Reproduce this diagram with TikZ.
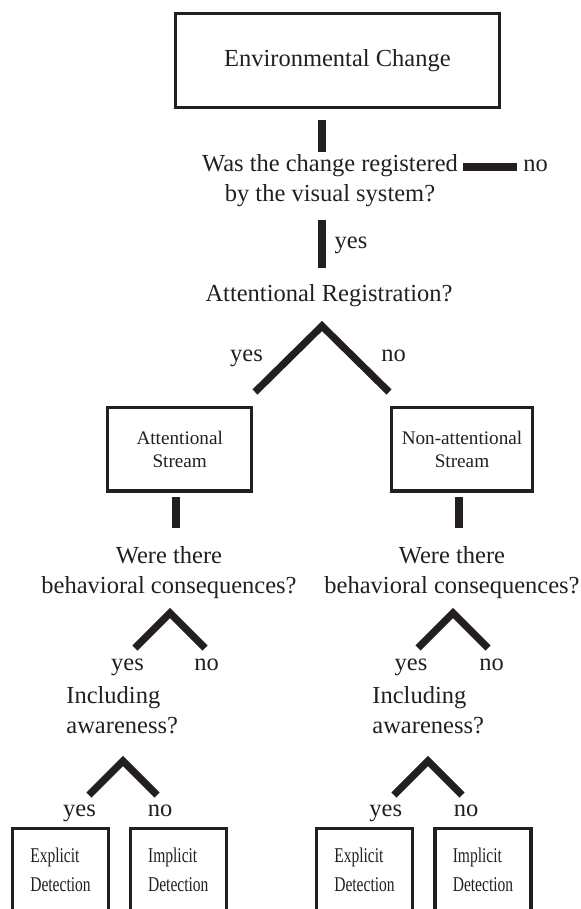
\documentclass[tikz,border=0pt]{standalone}
\usepackage{fontspec}
\setmainfont{Liberation Serif}
\newfontfamily\detectfont[FakeStretch=0.74]{Liberation Serif}
\usepackage{xcolor}
\usepackage{tikz}
\usetikzlibrary{calc}
\definecolor{ink}{HTML}{231F20}
\tikzset{
  treeBox/.style={draw=ink, line width=1.65pt, inner sep=0pt, align=center, text=ink},
  streamBox/.style={treeBox, minimum height=41.65pt, font=\fontsize{9.6}{11.7}\selectfont},
  detectBox/.style={treeBox, anchor=north, minimum width=48pt, text height=17.2pt, text depth=60pt,
    font=\detectfont\fontsize{10.5}{14.5}\selectfont},
  treeBar/.style={draw=ink, line width=3.6pt},
  treeText/.style={inner sep=0pt, text=ink, font=\fontsize{12.25}{15}\selectfont},
  treeLabel/.style={treeText, anchor=base}
}
\newcommand\detectText[2]{\begin{tabular}[t]{@{}l@{}}#1\\#2\end{tabular}}

\begin{document}
\begin{tikzpicture}[x=0.5pt, y=-0.5pt]
  \useasboundingbox (0,0) rectangle (581,909);
  \clip (0,0) rectangle (581,909);

  % top of the tree
  \node[treeBox, minimum width=162.1pt, minimum height=46.9pt, font=\fontsize{12.25}{15}\selectfont]
    (envChange) at (337.4,60.6) {Environmental Change};
  \node[treeText, align=center] (visualQ) at (330,181) {Was the change registered\\by the visual system?};
  \node[treeLabel] (visualNo) at (535.5,172) {no};
  \node[treeLabel] (visualYes) at (351,249) {yes};
  \node[treeLabel] (attnQ) at (329,301.5) {Attentional Registration?};
  \node[treeLabel] (attnYes) at (246.5,361.5) {yes};
  \node[treeLabel] (attnNo) at (393.5,361.5) {no};

  \coordinate (envBarTop) at (322,120);
  \coordinate (envBarEnd) at (322,152);
  \coordinate (noBarTop) at (463,167);
  \coordinate (noBarEnd) at (517,167);
  \coordinate (yesBarTop) at (322,220);
  \coordinate (yesBarEnd) at (322,268);
  \draw[treeBar] (envBarTop) -- (envBarEnd);
  \draw[treeBar] (noBarTop) -- (noBarEnd);
  \draw[treeBar] (yesBarTop) -- (yesBarEnd);

  \coordinate (attnFork) at (322,326);
  \draw[treeBar] ($(attnFork)+(-67,66)$) -- (attnFork) -- ($(attnFork)+(67,66)$);

  % the two streams
  \node[streamBox, minimum width=72pt] (attnStream) at (179.7,449.3) {Attentional\\Stream};
  \node[streamBox, minimum width=70.5pt] (nonStream) at (462,449.3) {Non-attentional\\Stream};

  \coordinate (attnBarTop) at (176,497);
  \coordinate (attnBarEnd) at (176,528);
  \coordinate (nonBarTop) at (459,497);
  \coordinate (nonBarEnd) at (459,528);
  \draw[treeBar] (attnBarTop) -- (attnBarEnd);
  \draw[treeBar] (nonBarTop) -- (nonBarEnd);

  \node[treeText, align=center] (behavL) at (169,572.6) {Were there\\behavioral consequences?};
  \node[treeText, align=center] (behavR) at (452,572.6) {Were there\\behavioral consequences?};

  \coordinate (behavForkL) at (170,613);
  \coordinate (behavForkR) at (453,613);
  \draw[treeBar] ($(behavForkL)+(-35,35)$) -- (behavForkL) -- ($(behavForkL)+(35,35)$);
  \draw[treeBar] ($(behavForkR)+(-35,35)$) -- (behavForkR) -- ($(behavForkR)+(35,35)$);

  \node[treeLabel] (behavYesL) at (127.5,670) {yes};
  \node[treeLabel] (behavNoL) at (206.5,670) {no};
  \node[treeLabel] (behavYesR) at (411,670) {yes};
  \node[treeLabel] (behavNoR) at (491.5,670) {no};

  \node[treeText, align=left, anchor=west] (awareL) at (66,710) {Including\\awareness?};
  \node[treeText, align=left, anchor=west] (awareR) at (372,710) {Including\\awareness?};

  \coordinate (awareForkL) at (123,761);
  \coordinate (awareForkR) at (428,761);
  \draw[treeBar] ($(awareForkL)+(-34,34)$) -- (awareForkL) -- ($(awareForkL)+(34,34)$);
  \draw[treeBar] ($(awareForkR)+(-34,34)$) -- (awareForkR) -- ($(awareForkR)+(34,34)$);

  \node[treeLabel] (awareYesL) at (79.5,816.5) {yes};
  \node[treeLabel] (awareNoL) at (160,816.5) {no};
  \node[treeLabel] (awareYesR) at (385.7,816.5) {yes};
  \node[treeLabel] (awareNoR) at (466,816.5) {no};

  % detection boxes, cut by the lower edge
  \node[detectBox] (explicitL) at (60.5,826.6) {\detectText{Explicit}{Detection}};
  \node[detectBox] (implicitL) at (178.3,826.6) {\detectText{Implicit}{Detection}};
  \node[detectBox] (explicitR) at (364.5,826.6) {\detectText{Explicit}{Detection}};
  \node[detectBox] (implicitR) at (483,826.6) {\detectText{Implicit}{Detection}};
\end{tikzpicture}
\end{document}
